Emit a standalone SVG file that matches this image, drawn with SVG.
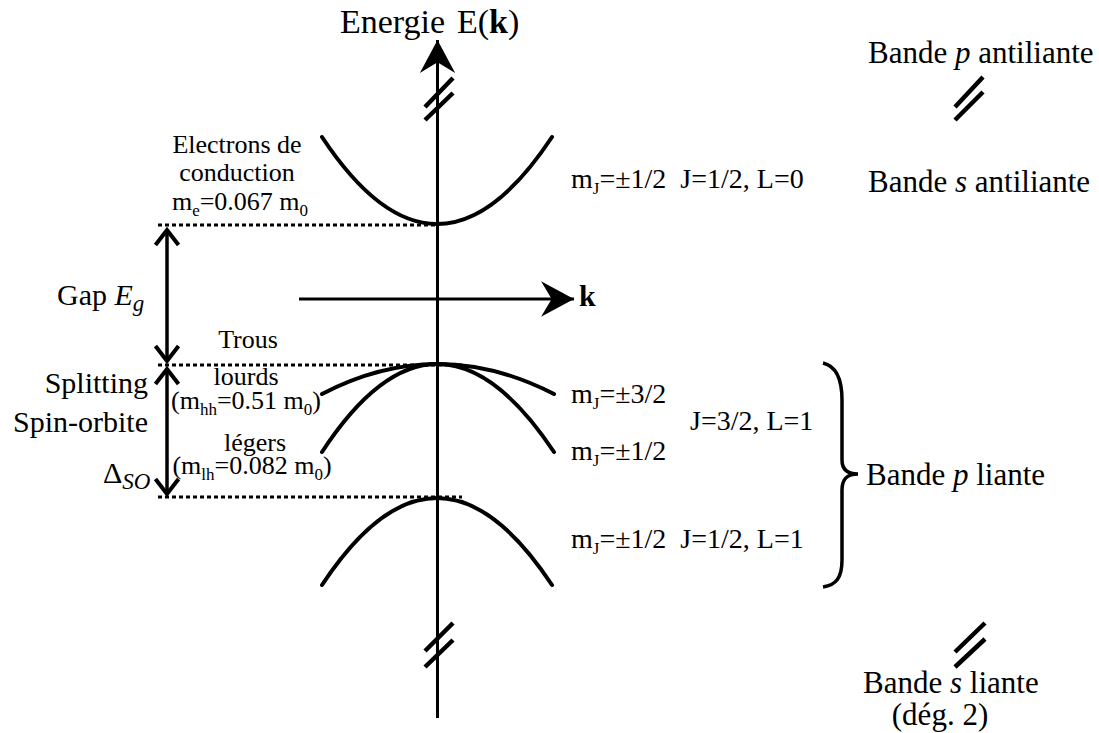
<svg xmlns="http://www.w3.org/2000/svg" width="1099" height="733" viewBox="0 0 1099 733">
<defs>
<style>
text{font-family:"Liberation Serif","Times New Roman",serif;fill:#000}
.t26{font-size:26px}
.t28{font-size:28px}
.t30{font-size:30px}
.t31{font-size:31px}
.band{fill:none;stroke:#000;stroke-width:4;stroke-linecap:round}
.axis{fill:none;stroke:#000;stroke-width:3}
.dot{fill:none;stroke:#000;stroke-width:3;stroke-dasharray:4 3}
.brk{fill:none;stroke:#000;stroke-width:4.5}
.dbl{fill:none;stroke:#000;stroke-width:3.5}
</style>
<marker id="chev" markerUnits="userSpaceOnUse" markerWidth="30" markerHeight="30" viewBox="-16 -13 20 26" refX="0" refY="0" orient="auto-start-reverse">
<path d="M-13,-10 L0,0 L-13,10" fill="none" stroke="#000" stroke-width="3.5"/>
</marker>
<marker id="ahead" markerUnits="userSpaceOnUse" markerWidth="40" markerHeight="40" viewBox="-32 -17 34 34" refX="0" refY="0" orient="auto">
<path d="M0,0 L-28,-15 L-19,0 L-28,15 Z" fill="#000"/>
</marker>
</defs>

<g id="connectors">
<line class="axis" x1="437.5" y1="718" x2="437.5" y2="40" marker-end="url(#ahead)"/>
<line class="axis" x1="299" y1="299" x2="574" y2="299" marker-end="url(#ahead)"/>
<line class="dot" x1="158" y1="225" x2="437" y2="225"/>
<line class="dot" x1="158" y1="365" x2="462" y2="365"/>
<line class="dot" x1="158" y1="497" x2="462" y2="497"/>
<line class="dbl" x1="167" y1="230" x2="167" y2="361" marker-start="url(#chev)" marker-end="url(#chev)"/>
<line class="dbl" x1="167" y1="369" x2="167" y2="494" marker-start="url(#chev)" marker-end="url(#chev)"/>
<path class="brk" d="M425,107 L453,78 M425,120 L453,93"/>
<path class="brk" d="M425,651 L453,623 M425,667 L453,640"/>
<path class="brk" d="M955,107 L983,77 M955,120 L983,92"/>
<path class="brk" d="M955,652 L985,623 M955,667 L985,639"/>
<path d="M823,363 C836,366 842,380 842,400 L842,460 C842,470 848,474 858,474 C848,474 842,478 842,490 L842,560 C842,578 836,585 823,587" fill="none" stroke="#000" stroke-width="3.5"/>
</g>

<g id="axis-labels">
<text font-size="34" x="340" y="33">Energie<tspan x="457">E(</tspan><tspan font-weight="bold">k</tspan>)</text>
<text font-size="30" x="579" y="306" font-weight="bold">k</text>
</g>

<g id="conduction-band">
<path class="band" d="M322,137 Q437,311 552,137"/>
<text class="t26" x="237" y="153" text-anchor="middle">Electrons de</text>
<text class="t26" x="237" y="181" text-anchor="middle">conduction</text>
<text class="t26" x="240" y="210" text-anchor="middle">m<tspan font-size="17" dy="6">e</tspan><tspan dy="-6">=0.067 m</tspan><tspan font-size="17" dy="6">0</tspan></text>
<text class="t28" x="571" y="188">m<tspan font-size="17" dy="6">J</tspan><tspan dy="-6" xml:space="preserve">=±1/2  J=1/2, L=0</tspan></text>
</g>

<g id="heavy-holes">
<path class="band" d="M322,394 Q437,334 554,394"/>
<text class="t26" x="248" y="348" text-anchor="middle">Trous</text>
<text class="t26" x="246" y="385" text-anchor="middle">lourds</text>
<text class="t26" x="246" y="409" text-anchor="middle">(m<tspan font-size="17" dy="6">hh</tspan><tspan dy="-6">=0.51 m</tspan><tspan font-size="17" dy="6">0</tspan><tspan dy="-6">)</tspan></text>
<text class="t28" x="571" y="403">m<tspan font-size="17" dy="6">J</tspan><tspan dy="-6">=±3/2</tspan></text>
</g>

<g id="light-holes">
<path class="band" d="M322,452 Q437,276 554,452"/>
<text class="t26" x="255" y="451" text-anchor="middle">légers</text>
<text class="t26" x="252" y="474" text-anchor="middle">(m<tspan font-size="17" dy="6">lh</tspan><tspan dy="-6">=0.082 m</tspan><tspan font-size="17" dy="6">0</tspan><tspan dy="-6">)</tspan></text>
<text class="t28" x="571" y="460">m<tspan font-size="17" dy="6">J</tspan><tspan dy="-6">=±1/2</tspan></text>
<text class="t28" x="690" y="430">J=3/2, L=1</text>
</g>

<g id="split-off-band">
<path class="band" d="M322,585 Q437,411 552,585"/>
<text class="t28" x="571" y="548">m<tspan font-size="17" dy="6">J</tspan><tspan dy="-6" xml:space="preserve">=±1/2  J=1/2, L=1</tspan></text>
</g>

<g id="gap-label">
<text class="t30" x="57" y="305">Gap <tspan font-style="italic">E</tspan><tspan font-style="italic" font-size="23" dy="6">g</tspan></text>
</g>

<g id="spin-orbit-label">
<text class="t30" x="148" y="393" text-anchor="end">Splitting</text>
<text class="t30" x="148" y="432" text-anchor="end">Spin-orbite</text>
<text class="t30" x="103" y="483">Δ<tspan font-style="italic" font-size="23" dy="6">SO</tspan></text>
</g>

<g id="band-names">
<text class="t31" x="868" y="63">Bande <tspan font-style="italic">p</tspan> antiliante</text>
<text class="t31" x="868" y="192">Bande <tspan font-style="italic">s</tspan> antiliante</text>
<text class="t31" x="866" y="485">Bande <tspan font-style="italic">p</tspan> liante</text>
<text class="t31" x="863" y="693">Bande <tspan font-style="italic">s</tspan> liante</text>
<text class="t31" x="940" y="725" text-anchor="middle">(dég. 2)</text>
</g>
</svg>
